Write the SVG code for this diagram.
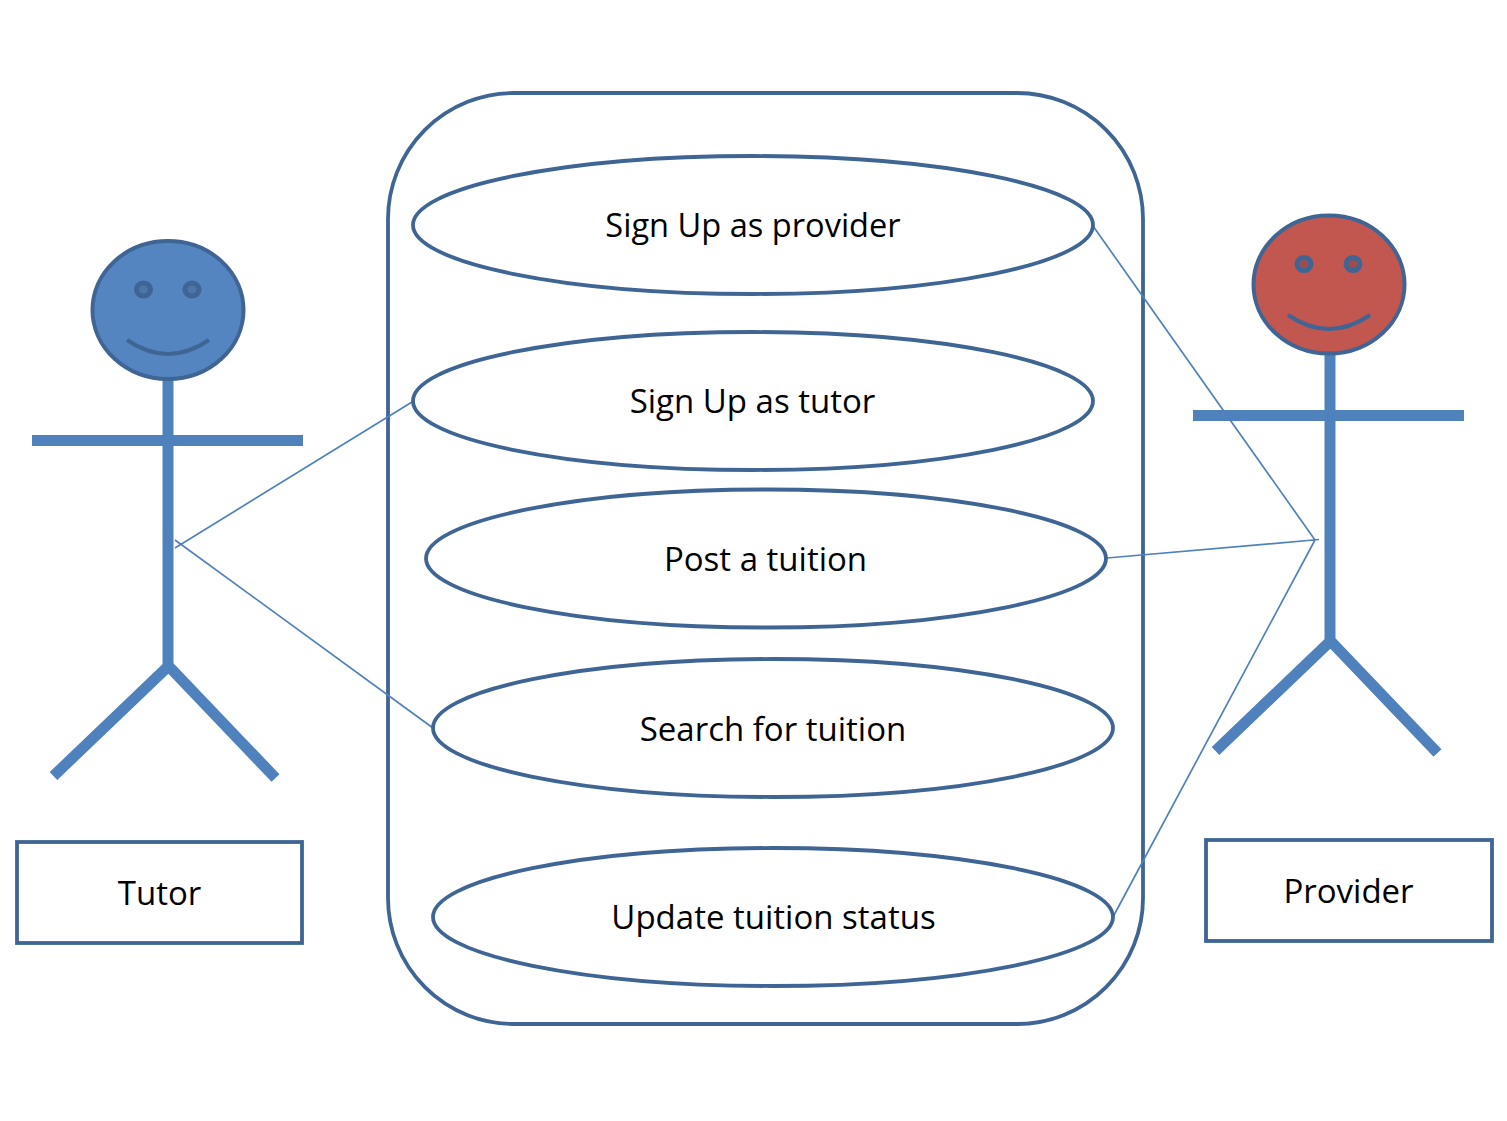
<svg xmlns="http://www.w3.org/2000/svg" width="1507" height="1121" viewBox="0 0 1507 1121">
<style>
text{font-family:"Open Sans","Noto Sans",sans-serif;font-size:33px;fill:#000;text-anchor:middle}
.u{fill:#fff;stroke:#3f6595;stroke-width:3.8}
.b{fill:none;stroke:#4f81bd;stroke-width:11}
.c{fill:none;stroke:#4f81bd;stroke-width:1.7}
.h{stroke:#3f6595;stroke-width:4}
.e{stroke:#3f6595;stroke-width:5}
.s{fill:none;stroke:#3f6595;stroke-width:4}
</style>
<rect width="1507" height="1121" fill="#fff"/>
<g id="system"><rect x="388" y="93" width="755" height="931" rx="126" ry="126" fill="none" stroke="#3f6595" stroke-width="3.8"/></g>
<g id="tutor-actor">
<path class="b" d="M168 379V665M32 440.500H303M53.500 776L168.500 666L275.500 778"/>
<ellipse class="h" cx="168" cy="310" rx="75.500" ry="69" fill="#5585c0"/>
<ellipse class="e" cx="143.500" cy="289.500" rx="7" ry="6.500" fill="#4b76a8"/>
<ellipse class="e" cx="192" cy="289.500" rx="7" ry="6.500" fill="#4b76a8"/>
<path class="s" d="M127 340Q168 368 209 340"/>
</g>
<g id="provider-actor">
<path class="b" d="M1330 354V640M1193 415.500H1464M1215.500 751L1330.500 641L1437.500 753"/>
<ellipse class="h" cx="1329" cy="284.500" rx="75.500" ry="69" fill="#c25750"/>
<ellipse class="e" cx="1304" cy="264" rx="7" ry="6.500" fill="#a14b4a"/>
<ellipse class="e" cx="1353" cy="264" rx="7" ry="6.500" fill="#a14b4a"/>
<path class="s" d="M1288 315Q1329 343 1370 315"/>
</g>
<g id="connectors">
<path class="c" d="M412 402L175 548M175 540L433 728M1093 226L1315 540M1107 558L1319 539.500M1315 540L1113 917"/>
</g>
<g id="uc1"><ellipse class="u" cx="753" cy="225" rx="340" ry="69"/><text x="753" y="237" style="font-size:32.6px">Sign Up as provider</text></g>
<g id="uc2"><ellipse class="u" cx="753" cy="401" rx="340" ry="69"/><text x="752.500" y="413">Sign Up as tutor</text></g>
<g id="uc3"><ellipse class="u" cx="766" cy="558.500" rx="340" ry="69"/><text x="765.500" y="571">Post a tuition</text></g>
<g id="uc4"><ellipse class="u" cx="773" cy="728" rx="340" ry="69"/><text x="773" y="741">Search for tuition</text></g>
<g id="uc5"><ellipse class="u" cx="773" cy="917" rx="340" ry="69"/><text x="773.500" y="929">Update tuition status</text></g>
<g id="tutor-label"><rect x="17" y="842" width="285" height="101" fill="#fff" stroke="#3f6595" stroke-width="3.8"/><text x="159.500" y="905">Tutor</text></g>
<g id="provider-label"><rect x="1206" y="840" width="286" height="101" fill="#fff" stroke="#3f6595" stroke-width="3.8"/><text x="1348.500" y="903">Provider</text></g>
</svg>
